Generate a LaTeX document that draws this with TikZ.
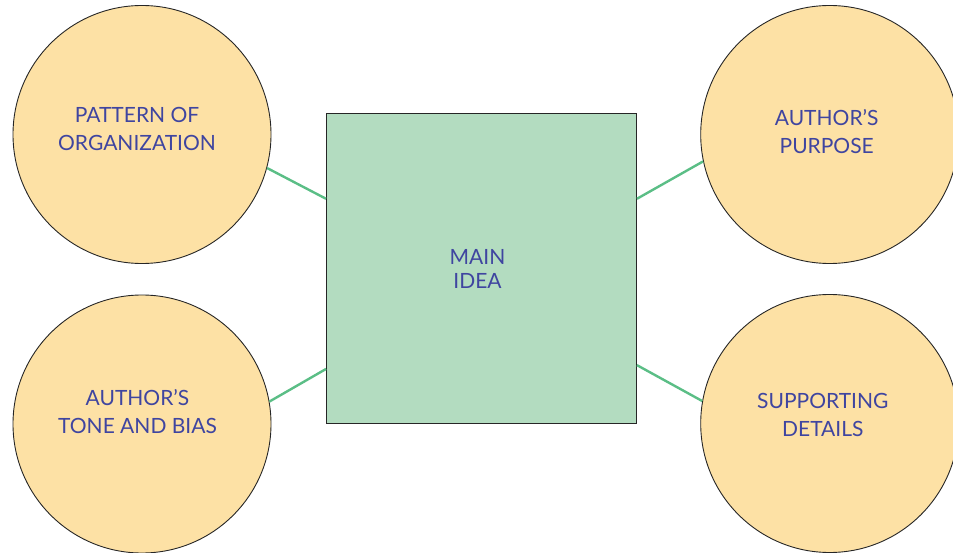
\documentclass[tikz,border=0pt]{standalone}
\usepackage{fontspec}
\setmainfont{Lato}
\definecolor{circfill}{HTML}{FDE1A5}
\definecolor{sqfill}{HTML}{B3DCC0}
\definecolor{linkgreen}{HTML}{5BBE86}
\definecolor{txtblue}{HTML}{3F45A0}
\begin{document}
\begin{tikzpicture}[x=1pt,y=-1pt,
  topic/.style={circle,draw=black!85,line width=0.9pt,fill=circfill,minimum size=258pt,inner sep=0pt},
  lbl/.style={text=txtblue,align=center,font=\fontsize{21}{28.4}\selectfont},
  mainbox/.style={rectangle,draw=black!85,line width=0.9pt,fill=sqfill,minimum size=310pt,inner sep=0pt},
  link/.style={draw=linkgreen,line width=2.4pt}]
\useasboundingbox (0,0) rectangle (953,553);
\begin{scope}
\clip (0,0) rectangle (953,553);
\node[mainbox] (sq) at (481.5,268) {};
\node[topic] (tl) at (142,134.5) {};
\node[topic] (tr) at (829.7,134.5) {};
\node[topic] (bl) at (142,424) {};
\node[topic] (br) at (829.7,423.5) {};
\draw[link] (tl.-15) -- (sq.156.3);
\draw[link] (sq.24.3) -- (tr.192);
\draw[link] (bl.10) -- (sq.213.3);
\draw[link] (sq.-32.6) -- (br.170.3);
\end{scope}
\node[lbl] (tlt) at (137,129) {PATTERN OF\\ORGANIZATION};
\node[lbl] (trt) at (826.7,131.5) {AUTHOR’S\\PURPOSE};
\node[lbl] (blt) at (137.5,411.7) {AUTHOR’S\\TONE AND BIAS};
\node[lbl] (brt) at (822.8,414.7) {SUPPORTING\\DETAILS};
\node[lbl,font=\fontsize{21}{24}\selectfont] (sqt) at (477.5,269) {MAIN\\IDEA};
\end{tikzpicture}
\end{document}
